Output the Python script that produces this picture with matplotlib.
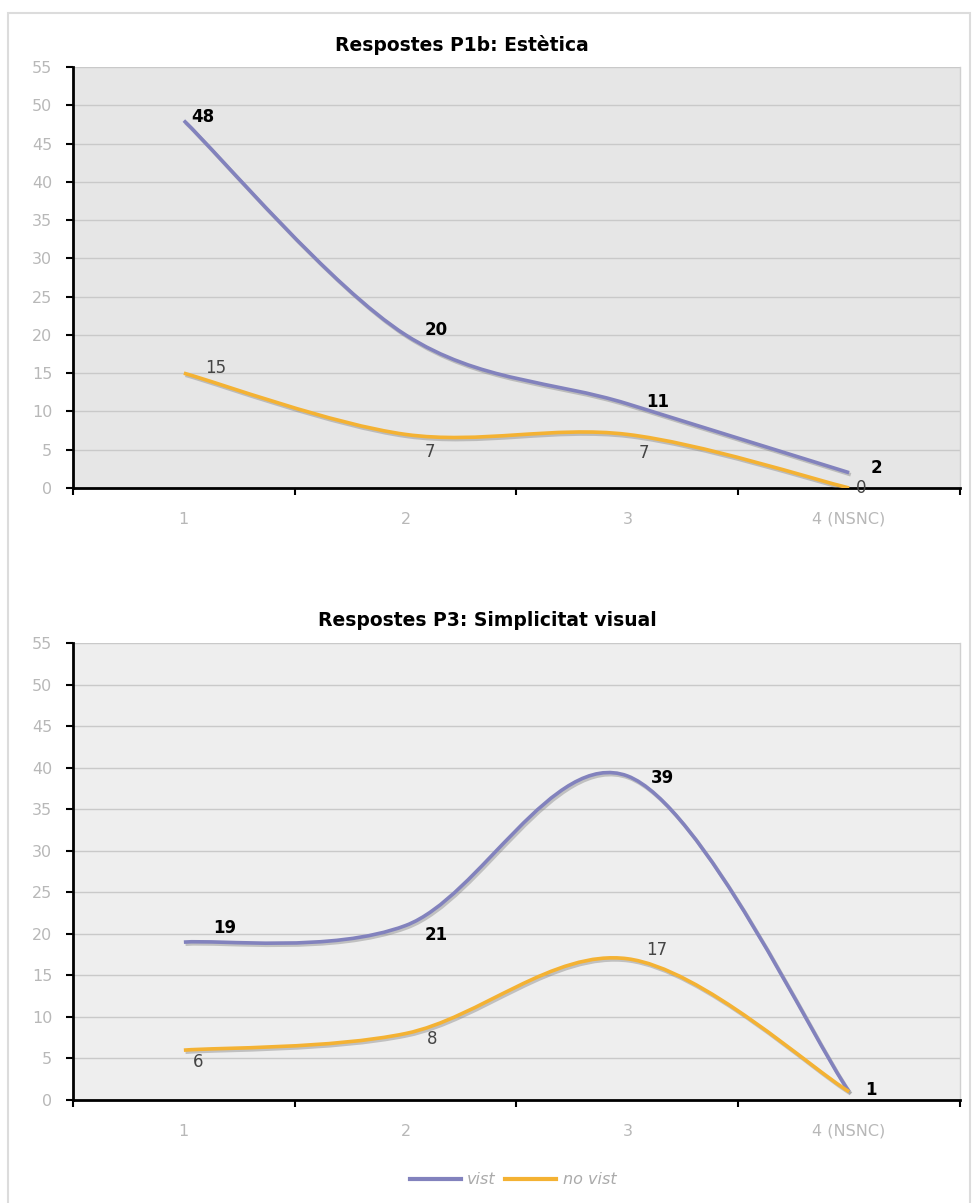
import numpy as np
import matplotlib
matplotlib.use("Agg")
import matplotlib.pyplot as plt
from matplotlib.path import Path
from matplotlib.patches import PathPatch, Rectangle
from matplotlib.lines import Line2D
import matplotlib.patheffects as pe

# data
categories = ["1", "2", "3", "4 (NSNC)"]
titles = ["Respostes P1b: Estètica", "Respostes P3: Simplicitat visual"]
series_names = ["vist", "no vist"]

p1b_vist = [48, 20, 11, 2]
p1b_no_vist = [15, 7, 7, 0]
p3_vist = [19, 21, 39, 1]
p3_no_vist = [6, 8, 17, 1]

# label offsets (px from the point), styling only
p1b_vist_off = [(19, 4), (31, 5), (30, 2), (27, 5)]
p1b_no_vist_off = [(32, 5), (24, -18), (17, -19), (12, 0)]
p3_vist_off = [(41, 14), (31, -9), (35, -2), (22, 2)]
p3_no_vist_off = [(14, -12), (27, -5), (29, 9), None]

BLUE = "#8282bd"
ORANGE = "#f4b233"
TICKGRAY = "#b8b8b8"

plt.rcParams['font.family'] = ['DejaVu Sans']


def smooth_path(xs, ys):
    # excel-like smoothed line: bezier through every point
    pts = np.column_stack([xs, ys]).astype(float)
    n = len(pts)
    verts = [pts[0]]
    codes = [Path.MOVETO]
    for i in range(n - 1):
        p_prev = pts[i - 1] if i > 0 else pts[i]
        p_next2 = pts[i + 2] if i + 2 < n else pts[i + 1]
        c1 = pts[i] + (pts[i + 1] - p_prev) / 6.0
        c2 = pts[i + 1] - (p_next2 - pts[i]) / 6.0
        verts += [c1, c2, pts[i + 1]]
        codes += [Path.CURVE4] * 3
    return Path(verts, codes)


def draw_panel(ax, vist, no_vist, vist_off, no_vist_off, bg):
    x = np.arange(1, len(categories) + 1)
    ax.set_facecolor(bg)
    ax.set_xlim(0.5, len(categories) + 0.5)
    ax.set_ylim(0, 55)
    ax.set_yticks(np.arange(0, 56, 5))
    ax.yaxis.grid(True, color="#c9c9c9", lw=1)
    ax.set_axisbelow(True)
    ax.set_xticks(np.arange(0.5, len(categories) + 1, 1))
    ax.set_xticklabels([])
    ax.set_xticks(x, minor=True)
    ax.set_xticklabels(categories, minor=True)
    ax.tick_params(axis="x", which="minor", length=0, pad=17, labelsize=11.5,
                   labelcolor=TICKGRAY)
    ax.tick_params(axis="x", which="major", length=5, width=1.5, direction="out")
    ax.tick_params(axis="y", length=5, width=1.5, direction="out", pad=10,
                   labelsize=11.5, labelcolor=TICKGRAY)
    for s in ["left", "bottom"]:
        ax.spines[s].set_linewidth(2)
        ax.spines[s].set_color("black")
    ax.spines["top"].set_visible(False)
    ax.spines["right"].set_color("#d0d0d0")
    ax.spines["right"].set_linewidth(1)

    for vals, col in [(vist, BLUE), (no_vist, ORANGE)]:
        patch = PathPatch(smooth_path(x, vals), fill=False, edgecolor=col, lw=2.6,
                          capstyle="butt", zorder=3,
                          path_effects=[pe.SimpleLineShadow(offset=(1.2, -1.5),
                                                            shadow_color="#888888",
                                                            alpha=0.45),
                                        pe.Normal()])
        ax.add_patch(patch)

    for xi, v, off in zip(x, no_vist, no_vist_off):
        if off is None:
            continue
        ax.annotate(str(v), (xi, v), xytext=(off[0] * 0.72, off[1] * 0.72),
                    textcoords="offset points", ha="center", va="center",
                    fontsize=12, color="#444444", zorder=5)
    for xi, v, off in zip(x, vist, vist_off):
        ax.annotate(str(v), (xi, v), xytext=(off[0] * 0.72, off[1] * 0.72),
                    textcoords="offset points", ha="center", va="center",
                    fontsize=12, fontweight="bold", color="black", zorder=5)


fig = plt.figure(figsize=(9.78, 12.03), dpi=100)
W, H = 978.0, 1203.0

ax1 = fig.add_axes([73 / W, 1 - 488 / H, 887 / W, 421 / H])
ax2 = fig.add_axes([73 / W, 1 - 1100 / H, 887 / W, 457 / H])

draw_panel(ax1, p1b_vist, p1b_no_vist, p1b_vist_off, p1b_no_vist_off, "#e6e6e6")
draw_panel(ax2, p3_vist, p3_no_vist, p3_vist_off, p3_no_vist_off, "#eeeeee")

fig.text(462 / W, 1 - 45 / H, titles[0], ha="center", va="center",
         fontsize=13.5, fontweight="bold")
fig.text(487 / W, 1 - 620 / H, titles[1], ha="center", va="center",
         fontsize=13.5, fontweight="bold")

# outer frame
fig.patches.append(Rectangle((8 / W, -0.01), 962 / W, 1 - 13 / H + 0.01,
                             transform=fig.transFigure, fill=False,
                             edgecolor="#dcdcdc", lw=1.5))

handles = [Line2D([], [], color=BLUE, lw=3), Line2D([], [], color=ORANGE, lw=3)]
leg = fig.legend(handles, series_names, loc="center", bbox_to_anchor=(513 / W, 1 - 1180 / H),
                 ncol=2, frameon=False, handlelength=3.2, handletextpad=0.4,
                 columnspacing=0.6, prop={"size": 11.5, "style": "italic"})
for t in leg.get_texts():
    t.set_color("#aaaaaa")

fig.savefig("out.png", dpi=100)
